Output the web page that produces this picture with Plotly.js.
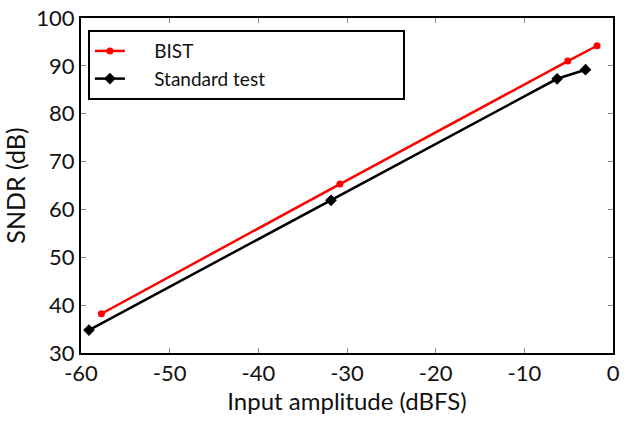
<!DOCTYPE html>
<html>
<head>
<meta charset="utf-8">
<script src="https://cdn.plot.ly/plotly-3.0.1.min.js"></script>
<style>html,body{margin:0;padding:0;background:#fff;}#chart{width:632px;height:421px;}</style>
</head>
<body>
<div id="chart"></div>
<script>
const bistX = [-57.7, -30.8, -5.1, -1.8];
const bistY = [38.2, 65.3, 91.0, 94.2];
const stdX = [-59.1, -31.8, -6.3, -3.1];
const stdY = [34.8, 61.9, 87.3, 89.2];
const seriesNames = ["BIST", "Standard test"];
const xTicks = [-60, -50, -40, -30, -20, -10, 0];
const xTickText = ["-60", "-50", "-40", "-30", "-20", "-10", "0"];
const yTicks = [30, 40, 50, 60, 70, 80, 90, 100];

const NB = "\u00a0";
function pad(s, pre, post) { return NB.repeat(pre) + s + NB.repeat(post); }

const traces = [
  {x: bistX, y: bistY, name: pad(seriesNames[0], 5, 42), mode: "lines+markers",
   line: {color: "#ff0000", width: 2.5}, marker: {symbol: "circle", size: 7, color: "#ff0000"}},
  {x: stdX, y: stdY, name: pad(seriesNames[1], 5, 20), mode: "lines+markers",
   line: {color: "#000000", width: 2.5}, marker: {symbol: "diamond", size: 9, color: "#000000"}}
];

const FONT = "Lato, 'Open Sans', sans-serif";
const axisCommon = {
  showgrid: false, zeroline: false, showline: true, linecolor: "#000", linewidth: 2,
  mirror: "allticks", ticks: "inside", ticklen: 5, tickcolor: "#888", tickwidth: 1,
  tickfont: {family: FONT, size: 22, color: "#111"}
};

const layout = {
  width: 632, height: 421,
  margin: {l: 81, r: 19, t: 18, b: 68},
  paper_bgcolor: "#fff", plot_bgcolor: "#fff",
  font: {family: FONT, color: "#111"},
  showlegend: true,
  legend: {x: 0.013, y: 0.964, xanchor: "left", yanchor: "top",
           bgcolor: "#fff", bordercolor: "#000", borderwidth: 2,
           font: {size: 19, color: "#111"}, tracegroupgap: 0, itemwidth: 30},
  xaxis: Object.assign({}, axisCommon, {range: [-60, 0], tickvals: xTicks, ticktext: xTickText,
    title: {text: "Input amplitude (dBFS)", font: {size: 24}, standoff: 8}}),
  yaxis: Object.assign({}, axisCommon, {range: [30, 100], tickvals: yTicks,
    title: {text: "SNDR (dB)", font: {size: 25}, standoff: 6}})
};

Plotly.newPlot("chart", traces, layout, {displayModeBar: false, staticPlot: true});
</script>
</body>
</html>
